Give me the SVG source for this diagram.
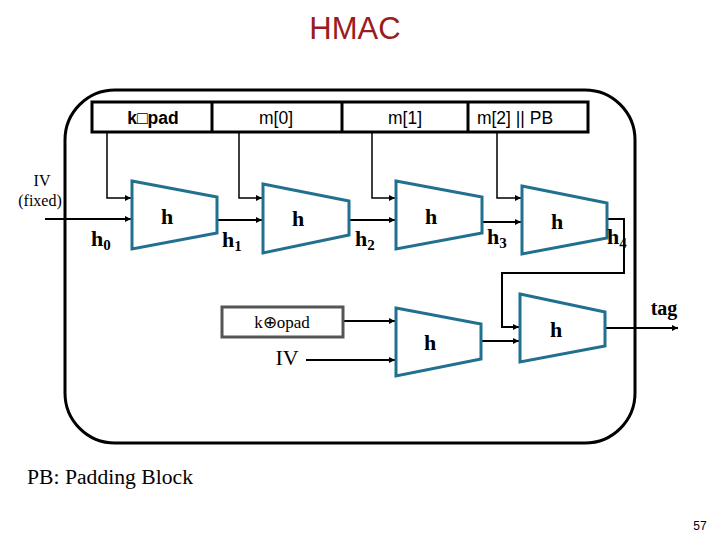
<svg xmlns="http://www.w3.org/2000/svg" width="720" height="540" viewBox="0 0 720 540">
<defs>
<marker id="ar" markerUnits="userSpaceOnUse" markerWidth="7" markerHeight="7" refX="6" refY="3" orient="auto">
<path d="M0,0 L6,3 L0,6 z" fill="#000"/>
</marker>
<style>
.trap{fill:#fff;stroke:#22708f;stroke-width:3;stroke-linejoin:miter}
.hl{font-family:"Liberation Serif",serif;font-weight:bold;font-size:22px;text-anchor:middle}
.lbl{font-family:"Liberation Serif",serif;font-weight:bold;font-size:22px}
.sub{font-size:15px}
.cell{font-family:"Liberation Sans",Arial,sans-serif;font-size:17.5px;text-anchor:middle}
.ln{fill:none;stroke:#000;stroke-width:1.5}
.lm{fill:none;stroke:#000;stroke-width:2}
</style>
</defs>
<rect width="720" height="540" fill="#fff"/>
<text x="355" y="39" font-family="Liberation Sans,Arial,sans-serif" font-size="31" fill="#9b1c1c" text-anchor="middle">HMAC</text>
<rect id="frame" x="65" y="90" width="570" height="353" rx="50" ry="50" fill="none" stroke="#000" stroke-width="3"/>
<g id="bar">
<rect x="92" y="102" width="496" height="30" fill="#fff" stroke="#000" stroke-width="3"/>
<line x1="212" y1="102" x2="212" y2="132" stroke="#000" stroke-width="3"/>
<line x1="342" y1="102" x2="342" y2="132" stroke="#000" stroke-width="3"/>
<line x1="468" y1="102" x2="468" y2="132" stroke="#000" stroke-width="3"/>
<text class="cell" x="153" y="124" font-weight="bold">k□pad</text>
<text class="cell" x="276" y="124">m[0]</text>
<text class="cell" x="405" y="124">m[1]</text>
<text class="cell" x="515" y="124">m[2] || PB</text>
</g>
<g id="connectors">
<polyline class="ln" points="107,132 107,198 131,198" marker-end="url(#ar)"/>
<polyline class="ln" points="239,132 239,198 262,198" marker-end="url(#ar)"/>
<polyline class="ln" points="372,132 372,198 395,198" marker-end="url(#ar)"/>
<polyline class="ln" points="497,132 497,198 521,198" marker-end="url(#ar)"/>
<line class="lm" x1="45" y1="219" x2="131" y2="219" marker-end="url(#ar)"/>
<line class="lm" x1="217" y1="220" x2="262" y2="220" marker-end="url(#ar)"/>
<line class="lm" x1="349" y1="220" x2="395" y2="220" marker-end="url(#ar)"/>
<line class="lm" x1="482" y1="222" x2="521" y2="222" marker-end="url(#ar)"/>
<polyline class="lm" points="607,219 624,219 624,273 502,273 502,327 519,327" marker-end="url(#ar)"/>
<line class="lm" x1="343" y1="321" x2="395" y2="321" marker-end="url(#ar)"/>
<line class="lm" x1="306" y1="360" x2="395" y2="360" marker-end="url(#ar)"/>
<line class="lm" x1="481" y1="341" x2="519" y2="341" marker-end="url(#ar)"/>
<line class="lm" x1="605" y1="328" x2="678" y2="328" marker-end="url(#ar)"/>
</g>
<g id="h1node"><polygon class="trap" points="132,181 217,197 217,233 132,249"/><text class="hl" x="167" y="224">h</text></g>
<g id="h2node"><polygon class="trap" points="263,184 349,201 349,235 263,253"/><text class="hl" x="298" y="226">h</text></g>
<g id="h3node"><polygon class="trap" points="396,181 482,197 482,233 396,249"/><text class="hl" x="431" y="224">h</text></g>
<g id="h4node"><polygon class="trap" points="522,186 607,203 607,238 522,254"/><text class="hl" x="557" y="229">h</text></g>
<g id="h5node"><polygon class="trap" points="396,308 481,324 481,359 396,376"/><text class="hl" x="430" y="350">h</text></g>
<g id="h6node"><polygon class="trap" points="520,294 605,312 605,346 520,362"/><text class="hl" x="556" y="337">h</text></g>
<g id="opad">
<rect x="222" y="307" width="121" height="30" fill="#fff" stroke="#555" stroke-width="3"/>
<text x="282" y="328" font-family="Liberation Serif,serif" font-size="17" text-anchor="middle">k⊕opad</text>
</g>
<text x="287" y="365" font-family="Liberation Serif,serif" font-size="22" text-anchor="middle">IV</text>
<text x="42" y="186" font-family="Liberation Serif,serif" font-size="16" text-anchor="middle">IV</text>
<text x="40" y="206" font-family="Liberation Serif,serif" font-size="16" text-anchor="middle">(fixed)</text>
<text class="lbl" x="91" y="246">h<tspan class="sub" dy="4">0</tspan></text>
<text class="lbl" x="222" y="247">h<tspan class="sub" dy="4">1</tspan></text>
<text class="lbl" x="355" y="246">h<tspan class="sub" dy="4">2</tspan></text>
<text class="lbl" x="487" y="244">h<tspan class="sub" dy="4">3</tspan></text>
<text class="lbl" x="607" y="244">h<tspan class="sub" dy="4">4</tspan></text>
<text x="664" y="315" font-family="Liberation Serif,serif" font-weight="bold" font-size="20" text-anchor="middle">tag</text>
<text x="27" y="484" font-family="Liberation Serif,serif" font-size="20" textLength="166" lengthAdjust="spacingAndGlyphs">PB: Padding Block</text>
<text x="700" y="530" font-family="Liberation Sans,Arial,sans-serif" font-size="12" text-anchor="middle">57</text>
</svg>
